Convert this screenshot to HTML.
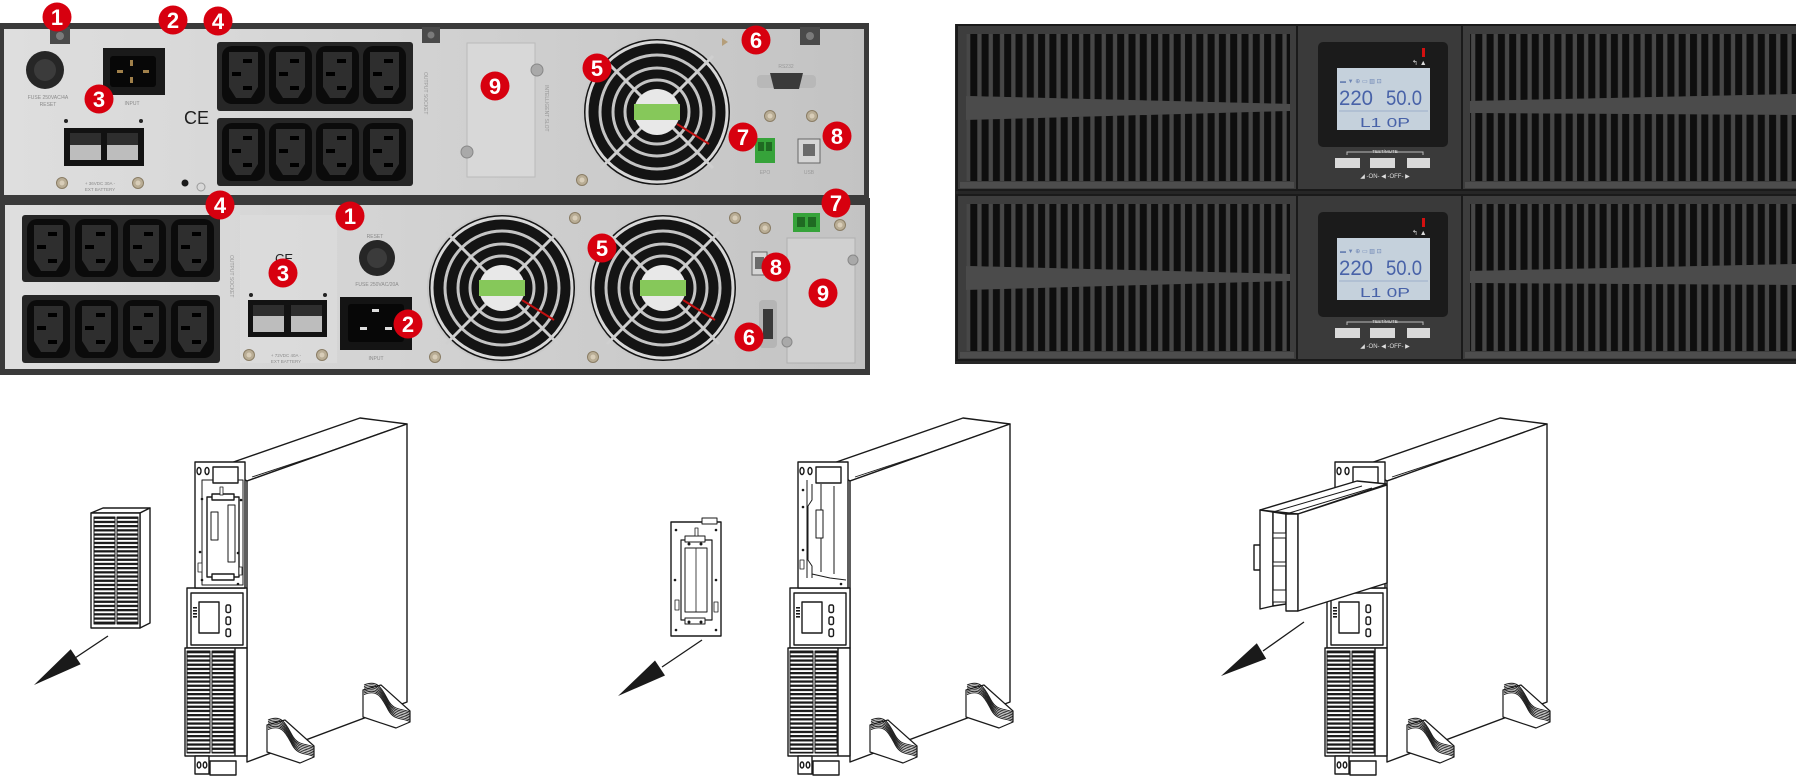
<!DOCTYPE html>
<html><head><meta charset="utf-8"><style>
html,body{margin:0;padding:0;background:#fff;}
svg{display:block;}
text{font-family:"Liberation Sans",sans-serif;}
</style></head><body>
<svg width="1796" height="776" viewBox="0 0 1796 776" xmlns="http://www.w3.org/2000/svg">
<defs>
 <linearGradient id="metal" x1="0" y1="0" x2="1" y2="0">
  <stop offset="0" stop-color="#dedede"/><stop offset="0.45" stop-color="#d3d3d3"/><stop offset="1" stop-color="#c3c3c3"/>
 </linearGradient>
 <pattern id="vs" width="11.3" height="10" patternUnits="userSpaceOnUse"><rect width="11.3" height="10" fill="#474747"/><rect x="2" width="7" height="10" fill="#0e0e0e"/></pattern>
 <pattern id="slat" width="8" height="4.2" patternUnits="userSpaceOnUse"><rect width="8" height="4.2" fill="#fff"/><rect width="8" height="2.3" fill="#1a1a1a"/></pattern>
 <g id="outlet">
  <rect width="43" height="58" rx="10" fill="#0b0b0b"/>
  <path d="M7,6 H36 V41 L29,52 H14 L7,41 Z" fill="#2e2e2e"/>
  <rect x="21" y="13" width="9" height="4" fill="#000"/>
  <rect x="10" y="26" width="9" height="4" fill="#000"/>
  <rect x="21" y="40" width="9" height="4" fill="#000"/>
 </g>
 <g id="fan">
  <circle r="75" fill="#c9c9c9"/>
  <circle r="73" fill="#141414"/>
  <circle r="70" fill="none" stroke="#d8d8d8" stroke-width="3"/>
  <circle r="57" fill="none" stroke="#c4c4c4" stroke-width="3"/>
  <circle r="44" fill="none" stroke="#c4c4c4" stroke-width="3"/>
  <circle r="32" fill="none" stroke="#c4c4c4" stroke-width="3"/>
  <line x1="-56" y1="-56" x2="56" y2="56" stroke="#cfcfcf" stroke-width="3"/>
  <line x1="56" y1="-56" x2="-56" y2="56" stroke="#cfcfcf" stroke-width="3"/>
  <circle r="23" fill="#e8e8e8"/>
  <rect x="-23" y="-8" width="46" height="16" fill="#86c85a"/>
  <line x1="20" y1="12" x2="52" y2="32" stroke="#c01010" stroke-width="2"/>
 </g>
 <g id="screw"><circle r="5.5" fill="#b9ad95" stroke="#8a7d65"/><circle r="2.5" fill="#d8cdb8"/></g>
 <g id="foot" fill="#fff" stroke="#1a1a1a" stroke-width="1.2">
  <polygon points="267,725 285,720 314,746 314,757 300,763 267,752"/>
  <g fill="none" stroke-width="0.9">
   <path d="M268,720 C282,714 286,724 292,735 S305,743 314,747"/>
   <path d="M268,721.6 C282,715.6 286,725.6 292,736.6 S305,744.6 314,748.6"/>
   <path d="M268,723.2 C282,717.2 286,727.2 292,738.2 S305,746.2 314,750.2"/>
   <path d="M268,724.8 C282,718.8 286,728.8 292,739.8 S305,747.8 314,751.8"/>
   <path d="M268,726.4 C282,720.4 286,730.4 292,741.4 S305,749.4 314,753.4"/>
   <path d="M268,728 C282,722 286,732 292,743 S305,751 314,755"/>
   <path d="M268,729.6 C282,723.6 286,733.6 292,744.6 S305,752.6 314,756.6"/>
  </g>
 </g>
 <g id="tb" fill="#fff" stroke="#1a1a1a" stroke-width="1.4" stroke-linejoin="round">
  <polygon points="222,466 360,418 407,424 247,481"/>
  <line x1="252" y1="477" x2="404" y2="427" stroke-width="0.9"/>
  <polygon points="247,481 407,424 407,702 247,762"/>
  <rect x="187" y="588" width="60" height="60"/>
  <rect x="191" y="593" width="52" height="52"/>
  <rect x="199" y="602" width="20" height="31"/>
  <rect x="226" y="605" width="4.5" height="7.5" rx="1.5"/>
  <rect x="226" y="617" width="4.5" height="7.5" rx="1.5"/>
  <rect x="226" y="629" width="4.5" height="7.5" rx="1.5"/>
  <g fill="#1a1a1a" stroke="none">
   <rect x="193" y="607" width="4" height="1.6"/><rect x="193" y="610" width="4" height="1.6"/>
   <rect x="193" y="613" width="4" height="1.6"/><rect x="193" y="616" width="4" height="1.6"/>
  </g>
  <rect x="185" y="648" width="62" height="108"/>
  <line x1="235" y1="648" x2="235" y2="756"/>
  <rect x="187" y="651" width="23" height="102" fill="url(#slat)" stroke-width="1"/>
  <rect x="212" y="651" width="22" height="102" fill="url(#slat)" stroke-width="1"/>
  <rect x="195" y="756" width="14" height="18"/>
  <ellipse cx="199" cy="765" rx="1.8" ry="3"/><ellipse cx="205" cy="765" rx="1.8" ry="3"/>
  <rect x="210" y="761" width="26" height="14"/>
  <use href="#foot"/>
  <use href="#foot" transform="translate(96,-35)"/>
 </g>
 <g id="lcdunit">
  <rect x="0" y="0" width="165" height="165" fill="#3a3a3a" stroke="#1a1a1a" stroke-width="2"/>
  <rect x="21" y="17" width="130" height="105" rx="5" fill="#1b1b1b"/>
  <rect x="40" y="43" width="93" height="62" fill="#c5d1dc"/>
  <text x="43" y="58" font-size="6" fill="#6c84b4">▬ ▼ ⊕ ▭ ▥ ⊡</text>
  <text x="42" y="80" font-size="21" fill="#4862a8" font-family="Liberation Mono, monospace" textLength="34" lengthAdjust="spacingAndGlyphs">220</text>
  <text x="89" y="80" font-size="21" fill="#4862a8" font-family="Liberation Mono, monospace" textLength="36" lengthAdjust="spacingAndGlyphs">50.0</text>
  <line x1="42" y1="86" x2="131" y2="86" stroke="#8fa3c4" stroke-width="0.8"/>
  <text x="63" y="102" font-size="13" fill="#4862a8" font-family="Liberation Mono, monospace" textLength="50" lengthAdjust="spacingAndGlyphs">L1 0P</text>
  <rect x="125" y="23" width="3" height="9" fill="#d41010"/>
  <text x="115" y="40" font-size="7" fill="#ddd">↰ ▲</text>
  <path d="M50,130 v-3 h76 v3" stroke="#bbb" fill="none" stroke-width="1"/>
  <text x="88" y="128" font-size="4.5" fill="#ddd" text-anchor="middle">TEST/MUTE</text>
  <rect x="38" y="133" width="25" height="10" fill="#d9d9d9"/>
  <rect x="73" y="133" width="25" height="10" fill="#d9d9d9"/>
  <rect x="110" y="133" width="23" height="10" fill="#d9d9d9"/>
  <text x="88" y="153" font-size="6" fill="#ddd" text-anchor="middle">◢ -ON- ◀ -OFF- ▶</text>
 </g>
 <g id="grL">
  <rect x="0" y="0" width="340" height="165" fill="#3d3d3d" stroke="#1a1a1a" stroke-width="2"/>
  <polygon points="9,9 333,9 333,79 9,71" fill="url(#vs)"/>
  <polygon points="9,71 333,79 333,86 9,95" fill="#4b4b4b"/>
  <polygon points="9,95 333,86 333,156 9,156" fill="url(#vs)"/>
  <rect x="3" y="157" width="334" height="6" fill="#4d4d4d"/>
 </g>
 <g id="grR">
  <rect x="0" y="0" width="336" height="165" fill="#3d3d3d" stroke="#1a1a1a" stroke-width="2"/>
  <polygon points="8,9 336,9 336,69 8,76" fill="url(#vs)"/>
  <polygon points="8,76 336,69 336,90 8,88" fill="#4b4b4b"/>
  <polygon points="8,88 336,90 336,156 8,156" fill="url(#vs)"/>
  <rect x="3" y="157" width="333" height="6" fill="#4d4d4d"/>
 </g>
 <g id="rrow">
  <use href="#grL" transform="translate(957,25)"/>
  <use href="#lcdunit" transform="translate(1297,25)"/>
  <use href="#grR" transform="translate(1462,25)"/>
 </g>
</defs>

<!-- ============ LEFT PHOTO: REAR PANELS ============ -->
<rect x="0" y="23" width="869" height="175" fill="#3a3a3a"/>
<rect x="4" y="29" width="860" height="166" fill="url(#metal)"/>
<rect x="0" y="198" width="870" height="177" fill="#3a3a3a"/>
<rect x="5" y="205" width="860" height="164" fill="url(#metal)"/>

<!-- upper unit -->
<rect x="50" y="27" width="20" height="17" fill="#4a4a4a"/><circle cx="60" cy="36" r="4" fill="#7a7a7a"/>
<rect x="422" y="27" width="18" height="16" fill="#4a4a4a"/><circle cx="431" cy="35" r="3.5" fill="#7a7a7a"/>
<rect x="800" y="27" width="20" height="18" fill="#4a4a4a"/><circle cx="810" cy="36" r="4" fill="#7a7a7a"/>
<circle cx="45" cy="70" r="19" fill="#262626"/><circle cx="45" cy="70" r="11" fill="#3b3b3b"/>
<text x="48" y="99" font-size="5" fill="#8a8a8a" text-anchor="middle">FUSE 250VAC/4A</text>
<text x="48" y="106" font-size="5" fill="#8a8a8a" text-anchor="middle">RESET</text>
<rect x="103" y="48" width="62" height="47" fill="#1a1a1a"/>
<rect x="110" y="56" width="46" height="31" rx="3" fill="#070707"/>
<rect x="130" y="60" width="3" height="6" fill="#a0804a"/><rect x="117" y="70" width="6" height="3" fill="#a0804a"/><rect x="143" y="70" width="6" height="3" fill="#a0804a"/><rect x="130" y="77" width="3" height="6" fill="#a0804a"/>
<text x="132" y="105" font-size="5" fill="#8a8a8a" text-anchor="middle">INPUT</text>
<circle cx="66" cy="121" r="2" fill="#222"/><circle cx="141" cy="121" r="2" fill="#222"/>
<rect x="64" y="128" width="80" height="38" fill="#121212"/>
<rect x="70" y="133" width="31" height="27" fill="#bdbdbd"/><rect x="70" y="133" width="31" height="12" fill="#2e2e2e"/>
<rect x="107" y="133" width="31" height="27" fill="#bdbdbd"/><rect x="107" y="133" width="31" height="12" fill="#2e2e2e"/>
<use href="#screw" transform="translate(62,183)"/><use href="#screw" transform="translate(138,183)"/>
<text x="100" y="185" font-size="4.5" fill="#8a8a8a" text-anchor="middle">+ 36VDC 30A -</text>
<text x="100" y="191" font-size="4.5" fill="#8a8a8a" text-anchor="middle">EXT BATTERY</text>
<text x="184" y="124" font-size="18" fill="#1e1e1e">CE</text>
<circle cx="185" cy="183" r="3.5" fill="#1a1a1a"/><circle cx="201" cy="187" r="4" fill="none" stroke="#9a9a9a"/>
<rect x="217" y="42" width="196" height="69" rx="3" fill="#262626"/>
<rect x="217" y="118" width="196" height="68" rx="3" fill="#262626"/>
<use href="#outlet" x="222" y="46"/><use href="#outlet" x="269" y="46"/><use href="#outlet" x="316" y="46"/><use href="#outlet" x="363" y="46"/>
<use href="#outlet" x="222" y="123"/><use href="#outlet" x="269" y="123"/><use href="#outlet" x="316" y="123"/><use href="#outlet" x="363" y="123"/>
<text transform="translate(424,72) rotate(90)" font-size="5" fill="#999">OUTPUT SOCKET</text>
<rect x="467" y="43" width="68" height="134" fill="#d8d8d8" stroke="#bababa"/>
<circle cx="537" cy="70" r="6" fill="#a9a9a9" stroke="#888"/><circle cx="467" cy="152" r="6" fill="#a9a9a9" stroke="#888"/>
<text transform="translate(545,85) rotate(90)" font-size="5" fill="#999">INTELLIGENT SLOT</text>
<use href="#fan" transform="translate(657,112)"/>
<use href="#screw" transform="translate(582,180)"/>
<polygon points="722,38 728,42 722,46" fill="#b59e7a"/>
<text x="786" y="68" font-size="5" fill="#999" text-anchor="middle">RS232</text>
<rect x="757" y="75" width="59" height="13" rx="4" fill="#b8b8b8"/>
<polygon points="770,73 803,73 799,89 774,89" fill="#3a3a3a"/>
<use href="#screw" transform="translate(770,116)"/><use href="#screw" transform="translate(812,116)"/>
<rect x="755" y="138" width="20" height="25" fill="#36a33a"/>
<rect x="758" y="142" width="6" height="9" fill="#1f6a22"/><rect x="766" y="142" width="6" height="9" fill="#1f6a22"/>
<rect x="798" y="139" width="22" height="24" fill="#d5d5d5" stroke="#666"/>
<rect x="803" y="144" width="12" height="12" fill="#6a6a6a"/>
<text x="765" y="174" font-size="5" fill="#999" text-anchor="middle">EPO</text>
<text x="809" y="174" font-size="5" fill="#999" text-anchor="middle">USB</text>

<!-- lower unit -->
<rect x="22" y="215" width="198" height="67" rx="3" fill="#262626"/>
<rect x="22" y="295" width="198" height="68" rx="3" fill="#262626"/>
<use href="#outlet" x="27" y="219"/><use href="#outlet" x="75" y="219"/><use href="#outlet" x="123" y="219"/><use href="#outlet" x="171" y="219"/>
<use href="#outlet" x="27" y="300"/><use href="#outlet" x="75" y="300"/><use href="#outlet" x="123" y="300"/><use href="#outlet" x="171" y="300"/>
<text transform="translate(230,255) rotate(90)" font-size="5" fill="#999">OUTPUT SOCKET</text>
<rect x="240" y="215" width="97" height="148" fill="#e0e0e0" opacity="0.5"/>
<text x="275" y="263" font-size="13" fill="#222">CE</text>
<circle cx="251" cy="295" r="2" fill="#222"/><circle cx="325" cy="295" r="2" fill="#222"/>
<rect x="248" y="300" width="79" height="37" fill="#121212"/>
<rect x="253" y="305" width="31" height="27" fill="#bdbdbd"/><rect x="253" y="305" width="31" height="11" fill="#2e2e2e"/>
<rect x="291" y="305" width="31" height="27" fill="#bdbdbd"/><rect x="291" y="305" width="31" height="11" fill="#2e2e2e"/>
<use href="#screw" transform="translate(249,355)"/><use href="#screw" transform="translate(322,355)"/>
<text x="286" y="357" font-size="4.5" fill="#8a8a8a" text-anchor="middle">+ 72VDC 40A -</text>
<text x="286" y="363" font-size="4.5" fill="#8a8a8a" text-anchor="middle">EXT BATTERY</text>
<text x="375" y="238" font-size="5" fill="#8a8a8a" text-anchor="middle">RESET</text>
<circle cx="377" cy="258" r="18" fill="#262626"/><circle cx="377" cy="258" r="10" fill="#3b3b3b"/>
<text x="377" y="286" font-size="5" fill="#8a8a8a" text-anchor="middle">FUSE 250VAC/20A</text>
<rect x="340" y="297" width="72" height="53" fill="#141414"/>
<rect x="348" y="304" width="56" height="38" rx="3" fill="#070707"/>
<rect x="372" y="309" width="7" height="3" fill="#ddd"/><rect x="360" y="327" width="7" height="3" fill="#ddd"/><rect x="385" y="327" width="7" height="3" fill="#ddd"/>
<text x="376" y="360" font-size="5" fill="#8a8a8a" text-anchor="middle">INPUT</text>
<use href="#fan" transform="translate(502,288)"/>
<use href="#fan" transform="translate(663,288)"/>
<use href="#screw" transform="translate(575,218)"/><use href="#screw" transform="translate(735,218)"/>
<use href="#screw" transform="translate(435,357)"/><use href="#screw" transform="translate(593,357)"/>
<use href="#screw" transform="translate(765,228)"/><use href="#screw" transform="translate(840,225)"/>
<rect x="793" y="213" width="27" height="19" fill="#36a33a"/>
<rect x="797" y="217" width="8" height="10" fill="#1f6a22"/><rect x="808" y="217" width="8" height="10" fill="#1f6a22"/>
<rect x="752" y="252" width="15" height="23" fill="#d5d5d5" stroke="#666"/><rect x="755" y="257" width="9" height="12" fill="#6a6a6a"/>
<rect x="787" y="238" width="68" height="125" fill="#d0d0d0" stroke="#b0b0b0"/>
<circle cx="853" cy="260" r="5" fill="#a9a9a9" stroke="#888"/><circle cx="787" cy="342" r="5" fill="#a9a9a9" stroke="#888"/>
<rect x="759" y="300" width="18" height="48" rx="4" fill="#b5b5b5"/><rect x="763" y="309" width="10" height="30" fill="#3a3a3a"/>

<!-- red labels -->
<g fill="#d7000f">
 <circle cx="57" cy="17" r="14.5"/><circle cx="173" cy="20" r="14.5"/><circle cx="218" cy="21" r="14.5"/>
 <circle cx="99" cy="99" r="14.5"/><circle cx="495" cy="86" r="14.5"/><circle cx="597" cy="68" r="14.5"/>
 <circle cx="756" cy="40" r="14.5"/><circle cx="743" cy="137" r="14.5"/><circle cx="837" cy="136" r="14.5"/>
 <circle cx="220" cy="205" r="14.5"/><circle cx="350" cy="216" r="14.5"/><circle cx="283" cy="273" r="14.5"/>
 <circle cx="408" cy="324" r="14.5"/><circle cx="602" cy="248" r="14.5"/><circle cx="836" cy="203" r="14.5"/>
 <circle cx="776" cy="267" r="14.5"/><circle cx="823" cy="293" r="14.5"/><circle cx="749" cy="337" r="14.5"/>
</g>
<g fill="#fff" font-size="22" font-weight="bold" text-anchor="middle">
 <text x="57" y="25">1</text><text x="173" y="28">2</text><text x="218" y="29">4</text>
 <text x="99" y="107">3</text><text x="495" y="94">9</text><text x="597" y="76">5</text>
 <text x="756" y="48">6</text><text x="743" y="145">7</text><text x="837" y="144">8</text>
 <text x="220" y="213">4</text><text x="350" y="224">1</text><text x="283" y="281">3</text>
 <text x="408" y="332">2</text><text x="602" y="256">5</text><text x="836" y="211">7</text>
 <text x="776" y="275">8</text><text x="823" y="301">9</text><text x="749" y="345">6</text>
</g>

<!-- ============ RIGHT PHOTO: FRONT PANELS ============ -->
<rect x="955" y="24" width="841" height="340" fill="#262626"/>
<use href="#rrow"/>
<use href="#rrow" transform="translate(0,170)"/>

<!-- ============ BOTTOM LINE DRAWINGS ============ -->
<!-- scene 1 -->
<use href="#tb"/>
<g fill="#fff" stroke="#1a1a1a" stroke-width="1.4" stroke-linejoin="round">
 <rect x="195" y="462" width="50" height="126"/>
 <rect x="202" y="480" width="41" height="105" stroke-width="1"/>
 <rect x="213" y="467" width="25" height="16"/>
 <ellipse cx="199" cy="471" rx="2" ry="3.5"/><ellipse cx="207" cy="471" rx="2" ry="3.5"/>
 <rect x="207" y="497" width="32" height="80"/>
 <rect x="212" y="494" width="22" height="6"/><rect x="212" y="574" width="22" height="6"/>
 <rect x="211" y="512" width="7" height="28" stroke-width="1"/>
 <rect x="228" y="505" width="7" height="57" stroke-width="1"/>
 <rect x="220" y="487" width="3" height="8" stroke-width="0.8"/>
 <rect x="198" y="563" width="4" height="9" stroke-width="0.8"/>
 <rect x="239" y="567" width="3" height="8" stroke-width="0.8"/>
 <g fill="#1a1a1a" stroke="none">
  <circle cx="202" cy="499" r="1.3"/><circle cx="241" cy="500" r="1.3"/><circle cx="200" cy="552" r="1.3"/>
  <circle cx="238" cy="553" r="1.3"/><circle cx="202" cy="580" r="1.3"/><circle cx="238" cy="584" r="1.3"/>
 </g>
 <polygon points="91,513 103,508 150,508 140,513"/>
 <polygon points="140,513 150,508 150,623 140,628"/>
 <rect x="91" y="513" width="49" height="115"/>
 <rect x="94" y="517" width="21" height="107" fill="url(#slat)" stroke-width="1"/>
 <rect x="117" y="517" width="21" height="107" fill="url(#slat)" stroke-width="1"/>
</g>
<line x1="108" y1="636" x2="72" y2="660" stroke="#1a1a1a" stroke-width="1.3"/>
<polygon points="34,685 70.7,649.2 80.7,664.2" fill="#1a1a1a"/>

<!-- scene 2 -->
<use href="#tb" transform="translate(603,0)"/>
<g fill="#fff" stroke="#1a1a1a" stroke-width="1.4" stroke-linejoin="round">
 <rect x="798" y="462" width="50" height="126"/>
 <rect x="816" y="467" width="25" height="16"/>
 <ellipse cx="802" cy="471" rx="2" ry="3.5"/><ellipse cx="810" cy="471" rx="2" ry="3.5"/>
 <line x1="807" y1="480" x2="807" y2="578" stroke-width="1"/>
 <polyline points="812,484 812,500 808,506 808,560 812,566 812,578" fill="none" stroke-width="1"/>
 <line x1="821" y1="484" x2="821" y2="572" stroke-width="1"/>
 <rect x="816" y="510" width="7" height="28" stroke-width="1"/>
 <line x1="834" y1="486" x2="834" y2="574" stroke-width="1"/>
 <polyline points="812,574 830,578 846,580" fill="none" stroke-width="1"/>
 <rect x="800" y="560" width="4" height="9" stroke-width="0.8"/>
 <g fill="#1a1a1a" stroke="none">
  <circle cx="803" cy="490" r="1.3"/><circle cx="803" cy="507" r="1.3"/><circle cx="803" cy="550" r="1.3"/>
  <circle cx="841" cy="584" r="1.3"/>
 </g>
 <rect x="671" y="522" width="50" height="114"/>
 <rect x="702" y="518" width="15" height="6" stroke-width="1"/>
 <rect x="681" y="540" width="31" height="80" stroke-width="1.2"/>
 <rect x="685" y="548" width="22" height="64" stroke-width="1"/>
 <line x1="696" y1="548" x2="696" y2="612" stroke-width="0.8"/>
 <rect x="685" y="536" width="20" height="6" stroke-width="1"/>
 <rect x="685" y="618" width="20" height="6" stroke-width="1"/>
 <rect x="675" y="600" width="4" height="10" stroke-width="0.8"/>
 <rect x="714" y="602" width="4" height="10" stroke-width="0.8"/>
 <rect x="695" y="528" width="3" height="8" stroke-width="0.8"/>
 <g fill="#1a1a1a" stroke="none">
  <circle cx="676" cy="530" r="1.3"/><circle cx="716" cy="530" r="1.3"/><circle cx="675" cy="580" r="1.3"/>
  <circle cx="716" cy="580" r="1.3"/><circle cx="676" cy="630" r="1.3"/><circle cx="716" cy="630" r="1.3"/>
  <circle cx="689" cy="544" r="1.5"/><circle cx="701" cy="544" r="1.5"/><circle cx="689" cy="622" r="1.5"/><circle cx="701" cy="622" r="1.5"/>
 </g>
</g>
<line x1="702" y1="640" x2="662" y2="667" stroke="#1a1a1a" stroke-width="1.3"/>
<polygon points="618,696 655,660.5 665,675.5" fill="#1a1a1a"/>

<!-- scene 3 -->
<use href="#tb" transform="translate(1140,0)"/>
<g fill="#fff" stroke="#1a1a1a" stroke-width="1.4" stroke-linejoin="round">
 <rect x="1335" y="462" width="50" height="126"/>
 <rect x="1353" y="467" width="25" height="16"/>
 <ellipse cx="1339" cy="471" rx="2" ry="3.5"/><ellipse cx="1347" cy="471" rx="2" ry="3.5"/>
 <polygon points="1260,510 1357,481 1387,484 1298,514"/>
 <line x1="1273" y1="512" x2="1362" y2="486" stroke-width="1"/>
 <line x1="1286" y1="514" x2="1372" y2="488" stroke-width="1"/>
 <rect x="1254" y="545" width="7" height="25"/>
 <polygon points="1260,510 1273,512 1273,606 1260,609"/>
 <polygon points="1273,512 1286,514 1286,604 1273,606"/>
 <rect x="1273" y="533" width="13" height="5" stroke-width="1"/>
 <rect x="1273" y="562" width="13" height="4" stroke-width="1"/>
 <rect x="1273" y="590" width="13" height="12" stroke-width="1"/>
 <polygon points="1286,514 1298,514 1298,611 1286,611"/>
 <polygon points="1298,514 1387,485 1387,583 1298,611"/>
</g>
<line x1="1304" y1="622" x2="1263" y2="651" stroke="#1a1a1a" stroke-width="1.3"/>
<polygon points="1221,676 1256.8,643.3 1266.2,658.7" fill="#1a1a1a"/>
</svg>
</body></html>
